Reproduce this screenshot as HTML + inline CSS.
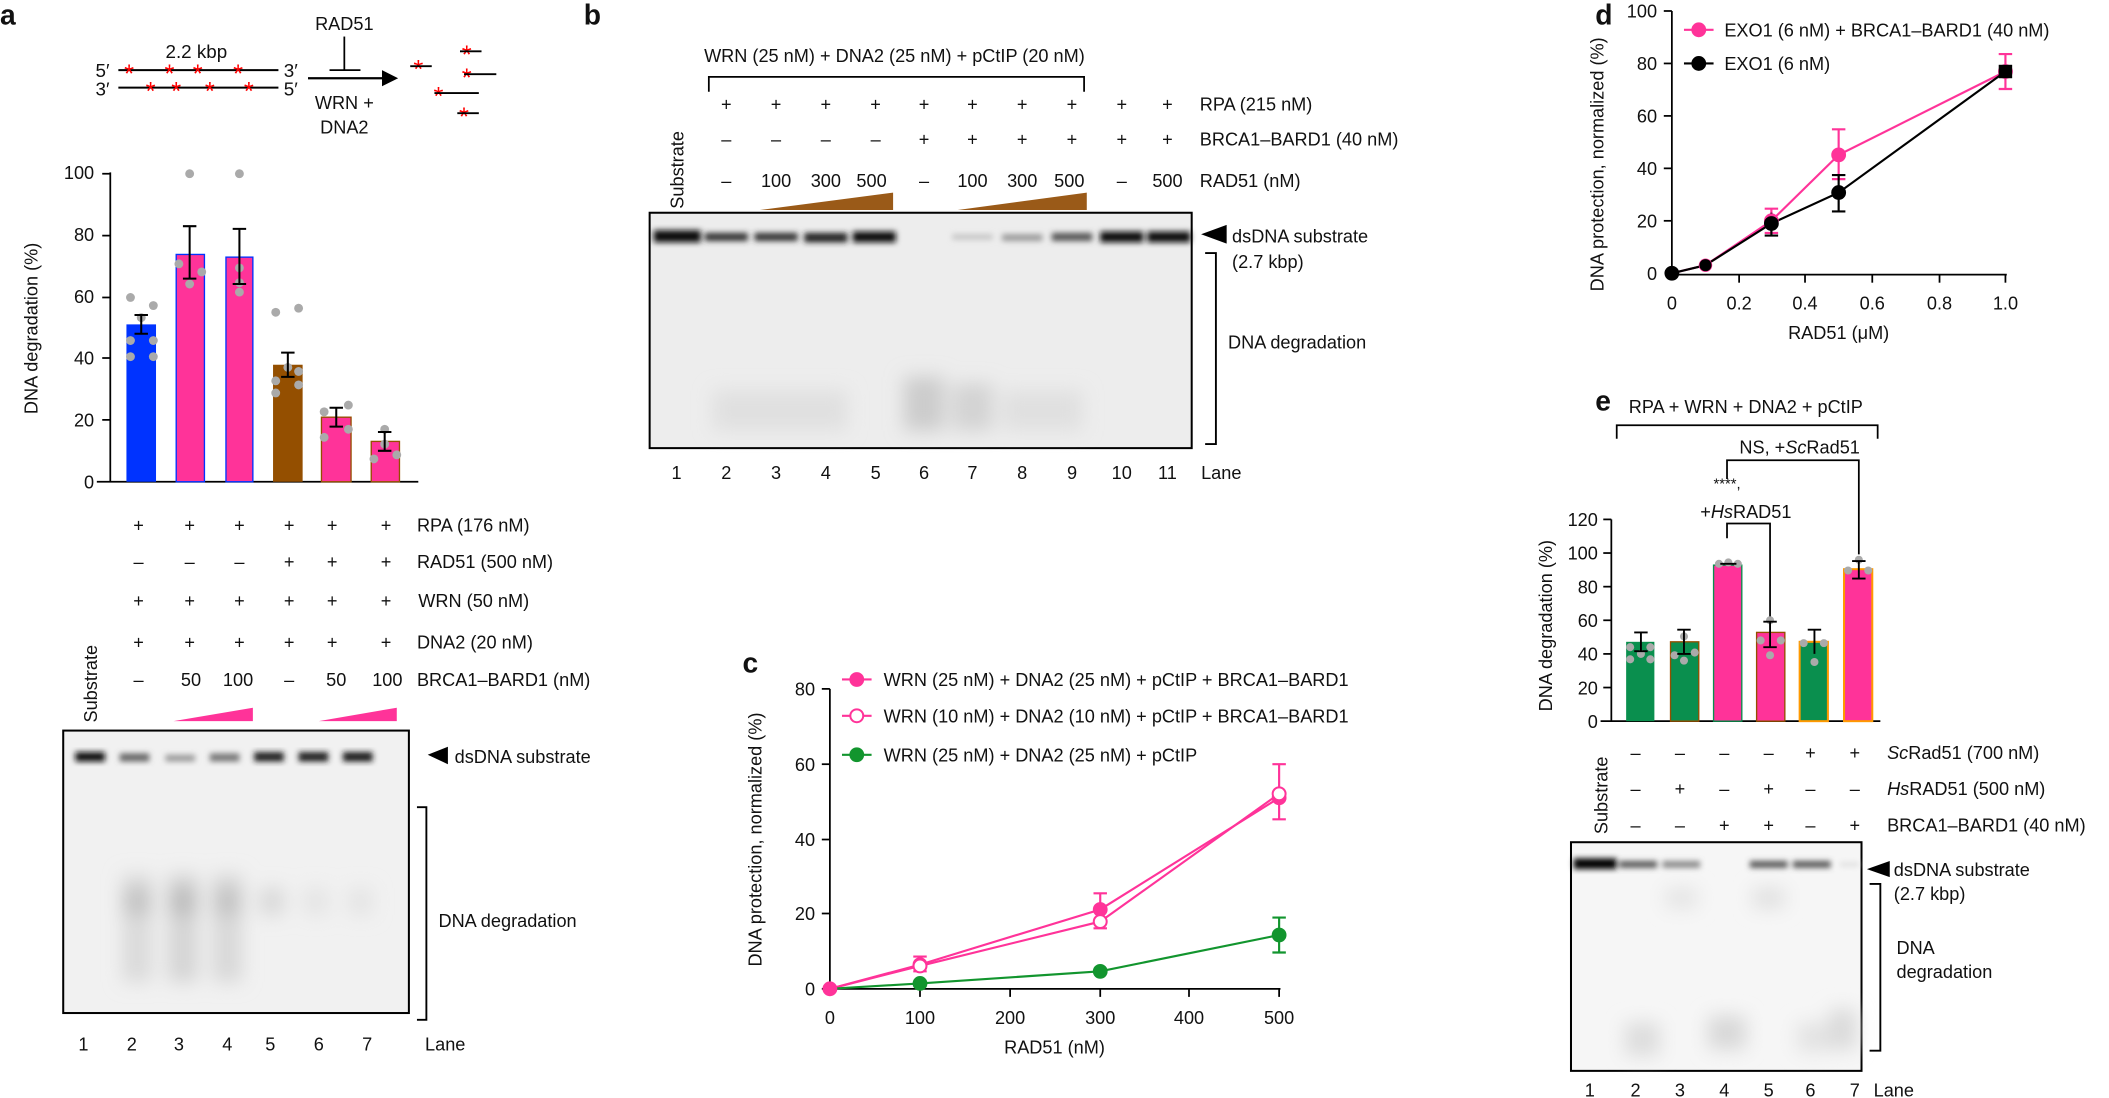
<!DOCTYPE html>
<html><head><meta charset="utf-8"><style>
html,body{margin:0;padding:0;background:#fff}
svg{display:block}
text{font-family:"Liberation Sans",sans-serif;fill:#111}
</style></head><body>
<svg width="2109" height="1098" viewBox="0 0 1568 816" xmlns="http://www.w3.org/2000/svg">
<defs>
<filter id="bl" x="-50%" y="-50%" width="200%" height="200%"><feGaussianBlur stdDeviation="2.2"/></filter>
<filter id="bl2" x="-50%" y="-50%" width="200%" height="200%"><feGaussianBlur stdDeviation="7"/></filter>
</defs>
<g font-size="13.5">
<text x="0" y="18" font-size="21" font-weight="bold">a</text>
<text x="434" y="18" font-size="21" font-weight="bold">b</text>
<text x="552" y="500" font-size="21" font-weight="bold">c</text>
<text x="1186" y="18" font-size="21" font-weight="bold">d</text>
<text x="1186" y="305" font-size="21" font-weight="bold">e</text>

<!-- ===== Panel a diagram ===== -->
<text x="146" y="43" text-anchor="middle" font-size="14">2.2 kbp</text>
<text x="71" y="57" font-size="14">5′</text><text x="211" y="57" font-size="14">3′</text>
<text x="71" y="71" font-size="14">3′</text><text x="211" y="71" font-size="14">5′</text>
<line x1="88" y1="52" x2="207" y2="52" stroke="#000" stroke-width="1.5"/>
<line x1="88" y1="65" x2="207" y2="65" stroke="#000" stroke-width="1.5"/>
<g font-size="19" text-anchor="middle">
<text x="96" y="61" style="fill:#f00">*</text><text x="126" y="61" style="fill:#f00">*</text><text x="147" y="61" style="fill:#f00">*</text><text x="177" y="61" style="fill:#f00">*</text>
<text x="112" y="74" style="fill:#f00">*</text><text x="131" y="74" style="fill:#f00">*</text><text x="156" y="74" style="fill:#f00">*</text><text x="185" y="74" style="fill:#f00">*</text>
<text x="311" y="58" style="fill:#f00">*</text><text x="347" y="47" style="fill:#f00">*</text><text x="347" y="64" style="fill:#f00">*</text><text x="326" y="78" style="fill:#f00">*</text><text x="345" y="93" style="fill:#f00">*</text>
</g>
<line x1="305" y1="49" x2="321" y2="49" stroke="#000" stroke-width="1.4"/>
<line x1="342" y1="38" x2="358" y2="38" stroke="#000" stroke-width="1.4"/>
<line x1="345" y1="55" x2="369" y2="55" stroke="#000" stroke-width="1.4"/>
<line x1="323" y1="69" x2="356" y2="69" stroke="#000" stroke-width="1.4"/>
<line x1="340" y1="84" x2="356" y2="84" stroke="#000" stroke-width="1.4"/>
<text x="256" y="22" text-anchor="middle">RAD51</text>
<line x1="256" y1="27" x2="256" y2="52" stroke="#000" stroke-width="1.3"/>
<line x1="245" y1="52" x2="268" y2="52" stroke="#000" stroke-width="1.3"/>
<line x1="229" y1="58" x2="286" y2="58" stroke="#000" stroke-width="1.6"/>
<polygon points="284,52 296,58 284,64" fill="#000"/>
<text x="256" y="81" text-anchor="middle">WRN +</text>
<text x="256" y="99" text-anchor="middle">DNA2</text>

<!-- ===== Panel a bar chart ===== -->
<text transform="translate(28,244) rotate(-90)" text-anchor="middle">DNA degradation (%)</text>
<line x1="82" y1="128" x2="82" y2="358" stroke="#000" stroke-width="1.3"/>
<line x1="72" y1="358" x2="311" y2="358" stroke="#000" stroke-width="1.3"/>
<g text-anchor="end">
<text x="70" y="133">100</text><text x="70" y="179">80</text><text x="70" y="225">60</text><text x="70" y="271">40</text><text x="70" y="317">20</text><text x="70" y="363">0</text>
</g>
<g stroke="#000" stroke-width="1.3">
<line x1="76" y1="129" x2="82" y2="129"/><line x1="76" y1="175" x2="82" y2="175"/><line x1="76" y1="221" x2="82" y2="221"/><line x1="76" y1="266" x2="82" y2="266"/><line x1="76" y1="312" x2="82" y2="312"/>
</g>
<rect x="94" y="241" width="22" height="117" fill="#0033ff"/>
<rect x="131" y="189" width="21" height="169" fill="#ff3399" stroke="#0033ff" stroke-width="1"/>
<rect x="168" y="191" width="20" height="167" fill="#ff3399" stroke="#0033ff" stroke-width="1"/>
<rect x="203" y="271" width="22" height="87" fill="#944f00"/>
<rect x="239" y="310" width="22" height="48" fill="#ff3399" stroke="#944f00" stroke-width="1"/>
<rect x="276" y="328" width="21" height="30" fill="#ff3399" stroke="#944f00" stroke-width="1"/>
<g fill="#aaa">
<circle cx="97" cy="221" r="3.3"/><circle cx="114" cy="227" r="3.3"/><circle cx="105" cy="236" r="3.3"/><circle cx="97" cy="253" r="3.3"/><circle cx="114" cy="253" r="3.3"/><circle cx="97" cy="265" r="3.3"/><circle cx="114" cy="265" r="3.3"/>
<circle cx="141" cy="129" r="3.3"/><circle cx="133" cy="196" r="3.3"/><circle cx="150" cy="202" r="3.3"/><circle cx="141" cy="211" r="3.3"/>
<circle cx="178" cy="129" r="3.3"/><circle cx="178" cy="199" r="3.3"/><circle cx="178" cy="210" r="3.3"/><circle cx="178" cy="217" r="3.3"/>
<circle cx="205" cy="232" r="3.3"/><circle cx="222" cy="229" r="3.3"/><circle cx="214" cy="273" r="3.3"/><circle cx="205" cy="283" r="3.3"/><circle cx="222" cy="286" r="3.3"/><circle cx="205" cy="292" r="3.3"/><circle cx="222" cy="276" r="3.3"/>
<circle cx="241" cy="306" r="3.3"/><circle cx="259" cy="301" r="3.3"/><circle cx="259" cy="319" r="3.3"/><circle cx="241" cy="325" r="3.3"/>
<circle cx="286" cy="319" r="3.3"/><circle cx="286" cy="330" r="3.3"/><circle cx="278" cy="341" r="3.3"/><circle cx="295" cy="338" r="3.3"/>
</g>
<g stroke="#000" stroke-width="1.5" fill="none">
<path d="M105 248V234M100 234h10M100 248h10"/>
<path d="M141 207V168M136 168h10M136 207h10"/>
<path d="M178 211V170M173 170h10M173 211h10"/>
<path d="M214 280V262M209 262h10M209 280h10"/>
<path d="M250 317V303M245 303h10M245 317h10"/>
<path d="M286 335V321M281 321h10M281 335h10"/>
</g>
<g text-anchor="middle">
<text x="103" y="395">+</text><text x="141" y="395">+</text><text x="178" y="395">+</text><text x="215" y="395">+</text><text x="247" y="395">+</text><text x="287" y="395">+</text>
<text x="103" y="422">–</text><text x="141" y="422">–</text><text x="178" y="422">–</text><text x="215" y="422">+</text><text x="247" y="422">+</text><text x="287" y="422">+</text>
<text x="103" y="451">+</text><text x="141" y="451">+</text><text x="178" y="451">+</text><text x="215" y="451">+</text><text x="247" y="451">+</text><text x="287" y="451">+</text>
<text x="103" y="482">+</text><text x="141" y="482">+</text><text x="178" y="482">+</text><text x="215" y="482">+</text><text x="247" y="482">+</text><text x="287" y="482">+</text>
<text x="103" y="510">–</text><text x="142" y="510">50</text><text x="177" y="510">100</text><text x="215" y="510">–</text><text x="250" y="510">50</text><text x="288" y="510">100</text>
</g>
<text x="310" y="395">RPA (176 nM)</text>
<text x="310" y="422">RAD51 (500 nM)</text>
<text x="311" y="451">WRN (50 nM)</text>
<text x="310" y="482">DNA2 (20 nM)</text>
<text x="310" y="510">BRCA1–BARD1 (nM)</text>
<polygon points="129,536 188,526 188,536" fill="#ff3399"/>
<polygon points="237,536 295,526 295,536" fill="#ff3399"/>
<text transform="translate(72,537) rotate(-90)">Substrate</text>
<rect x="47" y="543" width="257" height="210" fill="#f1f1f1" stroke="#000" stroke-width="1.5"/>
<g filter="url(#bl)">
<rect x="56" y="559" width="22" height="7" fill="#111"/>
<rect x="89" y="560" width="22" height="6" fill="#666"/>
<rect x="123" y="561" width="22" height="5" fill="#999"/>
<rect x="156" y="560" width="22" height="6" fill="#777"/>
<rect x="189" y="559" width="22" height="7" fill="#222"/>
<rect x="222" y="559" width="22" height="7" fill="#222"/>
<rect x="255" y="559" width="22" height="7" fill="#1a1a1a"/>
</g>
<g filter="url(#bl2)">
<rect x="91" y="650" width="22" height="80" fill="#dadada"/>
<rect x="125" y="650" width="22" height="80" fill="#d4d4d4"/>
<rect x="158" y="650" width="22" height="80" fill="#d8d8d8"/>
<rect x="92" y="660" width="20" height="20" fill="#c2c2c2"/>
<rect x="126" y="660" width="20" height="20" fill="#bcbcbc"/>
<rect x="159" y="660" width="20" height="20" fill="#c2c2c2"/>
<rect x="193" y="660" width="18" height="20" fill="#d8d8d8"/>
<rect x="226" y="660" width="18" height="20" fill="#e4e4e4"/>
<rect x="259" y="660" width="18" height="20" fill="#e4e4e4"/>
</g>
<polygon points="318,561 333,555 333,568" fill="#000"/>
<text x="338" y="567">dsDNA substrate</text>
<path d="M310 600h7v158h-7" stroke="#000" stroke-width="1.4" fill="none"/>
<text x="326" y="689">DNA degradation</text>
<g text-anchor="middle">
<text x="62" y="781">1</text><text x="98" y="781">2</text><text x="133" y="781">3</text><text x="169" y="781">4</text><text x="201" y="781">5</text><text x="237" y="781">6</text><text x="273" y="781">7</text>
</g>
<text x="316" y="781">Lane</text>

<!-- ===== Panel b ===== -->
<text x="665" y="46" text-anchor="middle">WRN (25 nM) + DNA2 (25 nM) + pCtIP (20 nM)</text>
<path d="M527 68V57H806V68" stroke="#000" stroke-width="1.3" fill="none"/>
<text transform="translate(508,155) rotate(-90)">Substrate</text>
<g text-anchor="middle">
<text x="540" y="82">+</text><text x="577" y="82">+</text><text x="614" y="82">+</text><text x="651" y="82">+</text><text x="687" y="82">+</text><text x="723" y="82">+</text><text x="760" y="82">+</text><text x="797" y="82">+</text><text x="834" y="82">+</text><text x="868" y="82">+</text>
<text x="540" y="108">–</text><text x="577" y="108">–</text><text x="614" y="108">–</text><text x="651" y="108">–</text><text x="687" y="108">+</text><text x="723" y="108">+</text><text x="760" y="108">+</text><text x="797" y="108">+</text><text x="834" y="108">+</text><text x="868" y="108">+</text>
<text x="540" y="139">–</text><text x="577" y="139">100</text><text x="614" y="139">300</text><text x="648" y="139">500</text><text x="687" y="139">–</text><text x="723" y="139">100</text><text x="760" y="139">300</text><text x="795" y="139">500</text><text x="834" y="139">–</text><text x="868" y="139">500</text>
</g>
<text x="892" y="82">RPA (215 nM)</text>
<text x="892" y="108">BRCA1–BARD1 (40 nM)</text>
<text x="892" y="139">RAD51 (nM)</text>
<polygon points="565,156 664,143 664,156" fill="#9a5a18"/>
<polygon points="712,156 808,143 808,156" fill="#9a5a18"/>
<rect x="483" y="158" width="403" height="175" fill="#ededed" stroke="#000" stroke-width="1.5"/>
<g filter="url(#bl)">
<rect x="486" y="171" width="35" height="9" fill="#111"/>
<rect x="524" y="173" width="32" height="6" fill="#333"/>
<rect x="561" y="173" width="32" height="6" fill="#333"/>
<rect x="598" y="173" width="32" height="7" fill="#222"/>
<rect x="634" y="172" width="32" height="8" fill="#111"/>
<rect x="708" y="174" width="30" height="4" fill="#c4c4c4"/>
<rect x="745" y="174" width="30" height="5" fill="#999"/>
<rect x="782" y="173" width="30" height="6" fill="#555"/>
<rect x="818" y="172" width="32" height="8" fill="#111"/>
<rect x="853" y="172" width="32" height="8" fill="#111"/>
</g>
<g filter="url(#bl2)">
<rect x="672" y="280" width="30" height="40" fill="#ccc"/>
<rect x="708" y="285" width="30" height="35" fill="#d3d3d3"/>
<rect x="530" y="290" width="100" height="30" fill="#e0e0e0"/>
<rect x="745" y="290" width="60" height="30" fill="#e0e0e0"/>
</g>
<polygon points="893,174 912,167 912,181" fill="#000"/>
<text x="916" y="180">dsDNA substrate</text>
<text x="916" y="199">(2.7 kbp)</text>
<path d="M896 188h8v142h-8" stroke="#000" stroke-width="1.4" fill="none"/>
<text x="913" y="259">DNA degradation</text>
<g text-anchor="middle">
<text x="503" y="356">1</text><text x="540" y="356">2</text><text x="577" y="356">3</text><text x="614" y="356">4</text><text x="651" y="356">5</text><text x="687" y="356">6</text><text x="723" y="356">7</text><text x="760" y="356">8</text><text x="797" y="356">9</text><text x="834" y="356">10</text><text x="868" y="356">11</text>
</g>
<text x="893" y="356">Lane</text>

<!-- ===== Panel c ===== -->
<text transform="translate(566,624) rotate(-90)" text-anchor="middle">DNA protection, normalized (%)</text>
<line x1="617" y1="512" x2="617" y2="735" stroke="#000" stroke-width="1.3"/>
<line x1="617" y1="735" x2="952" y2="735" stroke="#000" stroke-width="1.3"/>
<g stroke="#000" stroke-width="1.3">
<line x1="611" y1="512" x2="617" y2="512"/><line x1="611" y1="568" x2="617" y2="568"/><line x1="611" y1="624" x2="617" y2="624"/><line x1="611" y1="679" x2="617" y2="679"/><line x1="611" y1="735" x2="617" y2="735"/>
<line x1="684" y1="735" x2="684" y2="741"/><line x1="751" y1="735" x2="751" y2="741"/><line x1="818" y1="735" x2="818" y2="741"/><line x1="884" y1="735" x2="884" y2="741"/><line x1="951" y1="735" x2="951" y2="741"/>
</g>
<g text-anchor="end"><text x="606" y="517">80</text><text x="606" y="573">60</text><text x="606" y="629">40</text><text x="606" y="684">20</text><text x="606" y="740">0</text></g>
<g text-anchor="middle"><text x="617" y="761">0</text><text x="684" y="761">100</text><text x="751" y="761">200</text><text x="818" y="761">300</text><text x="884" y="761">400</text><text x="951" y="761">500</text>
<text x="784" y="783">RAD51 (nM)</text></g>
<g stroke-width="1.6" fill="none">
<polyline points="617,735 684,717 818,676 951,593" stroke="#ff3399"/>
<polyline points="617,735 684,718 818,685 951,590" stroke="#ff3399"/>
<polyline points="617,735 684,731 818,722 951,695" stroke="#12952e"/>
<path d="M684 711V722M679 711h10M679 722h10M818 664V690M813 664h10M813 690h10M951 568V609M946 568h10M946 609h10" stroke="#ff3399"/>
<path d="M951 682V708M946 682h10M946 708h10" stroke="#12952e"/>
</g>
<circle cx="617" cy="735" r="5.5" fill="#ff3399"/><circle cx="684" cy="717" r="5.5" fill="#ff3399"/><circle cx="818" cy="676" r="5.5" fill="#ff3399"/><circle cx="951" cy="593" r="5.5" fill="#ff3399"/>
<g fill="#fff" stroke="#ff3399" stroke-width="1.5"><circle cx="684" cy="718" r="4.8"/><circle cx="818" cy="685" r="4.8"/><circle cx="951" cy="590" r="4.8"/></g>
<g fill="#12952e"><circle cx="684" cy="731" r="5.5"/><circle cx="818" cy="722" r="5.5"/><circle cx="951" cy="695" r="5.5"/></g>
<line x1="626" y1="505" x2="648" y2="505" stroke="#ff3399" stroke-width="1.6"/><circle cx="637" cy="505" r="5.5" fill="#ff3399"/>
<line x1="626" y1="532" x2="648" y2="532" stroke="#ff3399" stroke-width="1.6"/><circle cx="637" cy="532" r="4.8" fill="#fff" stroke="#ff3399" stroke-width="1.5"/>
<line x1="626" y1="561" x2="648" y2="561" stroke="#12952e" stroke-width="1.6"/><circle cx="637" cy="561" r="5.5" fill="#12952e"/>
<text x="657" y="510">WRN (25 nM) + DNA2 (25 nM) + pCtIP + BRCA1–BARD1</text>
<text x="657" y="537">WRN (10 nM) + DNA2 (10 nM) + pCtIP + BRCA1–BARD1</text>
<text x="657" y="566">WRN (25 nM) + DNA2 (25 nM) + pCtIP</text>

<!-- ===== Panel d ===== -->
<text transform="translate(1192,122) rotate(-90)" text-anchor="middle">DNA protection, normalized (%)</text>
<line x1="1243" y1="8" x2="1243" y2="204" stroke="#000" stroke-width="1.3"/>
<line x1="1243" y1="204" x2="1492" y2="204" stroke="#000" stroke-width="1.3"/>
<g stroke="#000" stroke-width="1.3">
<line x1="1237" y1="8" x2="1243" y2="8"/><line x1="1237" y1="47" x2="1243" y2="47"/><line x1="1237" y1="86" x2="1243" y2="86"/><line x1="1237" y1="125" x2="1243" y2="125"/><line x1="1237" y1="164" x2="1243" y2="164"/>
<line x1="1293" y1="204" x2="1293" y2="210"/><line x1="1342" y1="204" x2="1342" y2="210"/><line x1="1392" y1="204" x2="1392" y2="210"/><line x1="1442" y1="204" x2="1442" y2="210"/><line x1="1491" y1="204" x2="1491" y2="210"/>
</g>
<g text-anchor="end"><text x="1232" y="13">100</text><text x="1232" y="52">80</text><text x="1232" y="91">60</text><text x="1232" y="130">40</text><text x="1232" y="169">20</text><text x="1232" y="208">0</text></g>
<g text-anchor="middle"><text x="1243" y="230">0</text><text x="1293" y="230">0.2</text><text x="1342" y="230">0.4</text><text x="1392" y="230">0.6</text><text x="1442" y="230">0.8</text><text x="1491" y="230">1.0</text>
<text x="1367" y="252">RAD51 (μM)</text></g>
<g stroke-width="1.6" fill="none">
<polyline points="1243,203 1268,197 1317,164 1367,115 1491,53" stroke="#ff3399"/>
<polyline points="1243,203 1268,197 1317,166 1367,143 1491,53" stroke="#000"/>
<path d="M1317 155V173M1312 155h10M1312 173h10M1367 96V133M1362 96h10M1362 133h10M1491 40V66M1486 40h10M1486 66h10" stroke="#ff3399"/>
<path d="M1367 130V157M1362 130h10M1362 157h10M1317 158V175M1312 175h10" stroke="#000"/>
</g>
<g fill="#ff3399"><circle cx="1268" cy="197" r="5"/><circle cx="1317" cy="164" r="5.5"/><circle cx="1367" cy="115" r="5.5"/><circle cx="1491" cy="53" r="5.5"/></g>
<g fill="#000"><circle cx="1243" cy="203" r="5.5"/><circle cx="1268" cy="197" r="4.5"/><circle cx="1317" cy="166" r="5.5"/><circle cx="1367" cy="143" r="5.5"/><rect x="1486" y="48" width="10" height="10"/></g>
<line x1="1252" y1="22" x2="1274" y2="22" stroke="#ff3399" stroke-width="1.6"/><circle cx="1263" cy="22" r="5.5" fill="#ff3399"/>
<line x1="1252" y1="47" x2="1274" y2="47" stroke="#000" stroke-width="1.6"/><circle cx="1263" cy="47" r="5.5" fill="#000"/>
<text x="1282" y="27">EXO1 (6 nM) + BRCA1–BARD1 (40 nM)</text>
<text x="1282" y="52">EXO1 (6 nM)</text>

<!-- ===== Panel e ===== -->
<text x="1298" y="307" text-anchor="middle">RPA + WRN + DNA2 + pCtIP</text>
<path d="M1202 326V316H1396V326" stroke="#000" stroke-width="1.3" fill="none"/>
<text x="1338" y="337" text-anchor="middle">NS, +<tspan font-style="italic">Sc</tspan>Rad51</text>
<path d="M1284 356V342H1382V412" stroke="#000" stroke-width="1.3" fill="none"/>
<text x="1284" y="363" text-anchor="middle" font-size="11">****,</text>
<text x="1298" y="385" text-anchor="middle">+<tspan font-style="italic">Hs</tspan>RAD51</text>
<path d="M1284 400V389H1316V460" stroke="#000" stroke-width="1.3" fill="none"/>
<text transform="translate(1154,465) rotate(-90)" text-anchor="middle">DNA degradation (%)</text>
<line x1="1198" y1="386" x2="1198" y2="536" stroke="#000" stroke-width="1.3"/>
<line x1="1190" y1="536" x2="1398" y2="536" stroke="#000" stroke-width="1.3"/>
<g stroke="#000" stroke-width="1.3">
<line x1="1192" y1="386" x2="1198" y2="386"/><line x1="1192" y1="411" x2="1198" y2="411"/><line x1="1192" y1="436" x2="1198" y2="436"/><line x1="1192" y1="461" x2="1198" y2="461"/><line x1="1192" y1="486" x2="1198" y2="486"/><line x1="1192" y1="511" x2="1198" y2="511"/>
</g>
<g text-anchor="end"><text x="1188" y="391">120</text><text x="1188" y="416">100</text><text x="1188" y="441">80</text><text x="1188" y="466">60</text><text x="1188" y="491">40</text><text x="1188" y="516">20</text><text x="1188" y="541">0</text></g>
<rect x="1209" y="477" width="21" height="59" fill="#0a8f4e"/>
<rect x="1242" y="477" width="21" height="59" fill="#0a8f4e" stroke="#944f00" stroke-width="1"/>
<rect x="1274" y="420" width="21" height="116" fill="#ff3399" stroke="#0a8f4e" stroke-width="1"/>
<rect x="1306" y="470" width="21" height="66" fill="#ff3399" stroke="#944f00" stroke-width="1"/>
<rect x="1338" y="477" width="21" height="59" fill="#0a8f4e" stroke="#ff9900" stroke-width="1.5"/>
<rect x="1371" y="423" width="21" height="113" fill="#ff3399" stroke="#ff9900" stroke-width="1.5"/>
<g fill="#aaa">
<circle cx="1212" cy="481" r="3"/><circle cx="1227" cy="481" r="3"/><circle cx="1220" cy="486" r="3"/><circle cx="1212" cy="490" r="3"/><circle cx="1227" cy="490" r="3"/>
<circle cx="1252" cy="473" r="3"/><circle cx="1245" cy="487" r="3"/><circle cx="1260" cy="485" r="3"/><circle cx="1252" cy="491" r="3"/>
<circle cx="1278" cy="419" r="3"/><circle cx="1285" cy="418" r="3"/><circle cx="1292" cy="419" r="3"/>
<circle cx="1316" cy="461" r="3"/><circle cx="1309" cy="476" r="3"/><circle cx="1324" cy="476" r="3"/><circle cx="1316" cy="487" r="3"/>
<circle cx="1341" cy="478" r="3"/><circle cx="1356" cy="478" r="3"/><circle cx="1349" cy="492" r="3"/>
<circle cx="1382" cy="416" r="3"/><circle cx="1374" cy="424" r="3"/><circle cx="1389" cy="424" r="3"/>
</g>
<g stroke="#000" stroke-width="1.4" fill="none">
<path d="M1220 470V484M1215 470h10M1215 484h10"/>
<path d="M1252 468V486M1247 468h10M1247 486h10"/>
<path d="M1316 462V481M1311 462h10M1311 481h10"/>
<path d="M1349 468V486M1344 468h10"/>
<path d="M1382 417V430M1377 417h10M1377 430h10"/>
<path d="M1279 419h12"/>
</g>
<g text-anchor="middle">
<text x="1216" y="564">–</text><text x="1249" y="564">–</text><text x="1282" y="564">–</text><text x="1315" y="564">–</text><text x="1346" y="564">+</text><text x="1379" y="564">+</text>
<text x="1216" y="591">–</text><text x="1249" y="591">+</text><text x="1282" y="591">–</text><text x="1315" y="591">+</text><text x="1346" y="591">–</text><text x="1379" y="591">–</text>
<text x="1216" y="618">–</text><text x="1249" y="618">–</text><text x="1282" y="618">+</text><text x="1315" y="618">+</text><text x="1346" y="618">–</text><text x="1379" y="618">+</text>
</g>
<text x="1403" y="564"><tspan font-style="italic">Sc</tspan>Rad51 (700 nM)</text>
<text x="1403" y="591"><tspan font-style="italic">Hs</tspan>RAD51 (500 nM)</text>
<text x="1403" y="618">BRCA1–BARD1 (40 nM)</text>
<text transform="translate(1195,620) rotate(-90)">Substrate</text>
<rect x="1168" y="626" width="216" height="170" fill="#f6f6f6" stroke="#000" stroke-width="1.5"/>
<g filter="url(#bl)">
<rect x="1170" y="638" width="32" height="8" fill="#000"/>
<rect x="1204" y="640" width="28" height="5" fill="#555"/>
<rect x="1236" y="640" width="28" height="5" fill="#888"/>
<rect x="1301" y="640" width="28" height="5" fill="#555"/>
<rect x="1333" y="640" width="28" height="5" fill="#555"/>
<rect x="1368" y="641" width="14" height="3" fill="#ddd"/>
</g>
<g filter="url(#bl2)">
<rect x="1208" y="760" width="26" height="25" fill="#ddd"/><rect x="1270" y="755" width="28" height="25" fill="#d8d8d8"/><rect x="1336" y="760" width="24" height="22" fill="#e3e3e3"/><rect x="1360" y="750" width="20" height="30" fill="#dadada"/>
<rect x="1238" y="660" width="24" height="15" fill="#e4e4e4"/><rect x="1303" y="660" width="24" height="15" fill="#e0e0e0"/>
</g>
<polygon points="1388,646 1405,640 1405,652" fill="#000"/>
<text x="1408" y="651">dsDNA substrate</text>
<text x="1408" y="669">(2.7 kbp)</text>
<path d="M1390 657h8v124h-8" stroke="#000" stroke-width="1.4" fill="none"/>
<text x="1410" y="709">DNA</text>
<text x="1410" y="727">degradation</text>
<g text-anchor="middle">
<text x="1182" y="815">1</text><text x="1216" y="815">2</text><text x="1249" y="815">3</text><text x="1282" y="815">4</text><text x="1315" y="815">5</text><text x="1346" y="815">6</text><text x="1379" y="815">7</text>
</g>
<text x="1393" y="815">Lane</text>
</g>
</svg>
</body></html>
